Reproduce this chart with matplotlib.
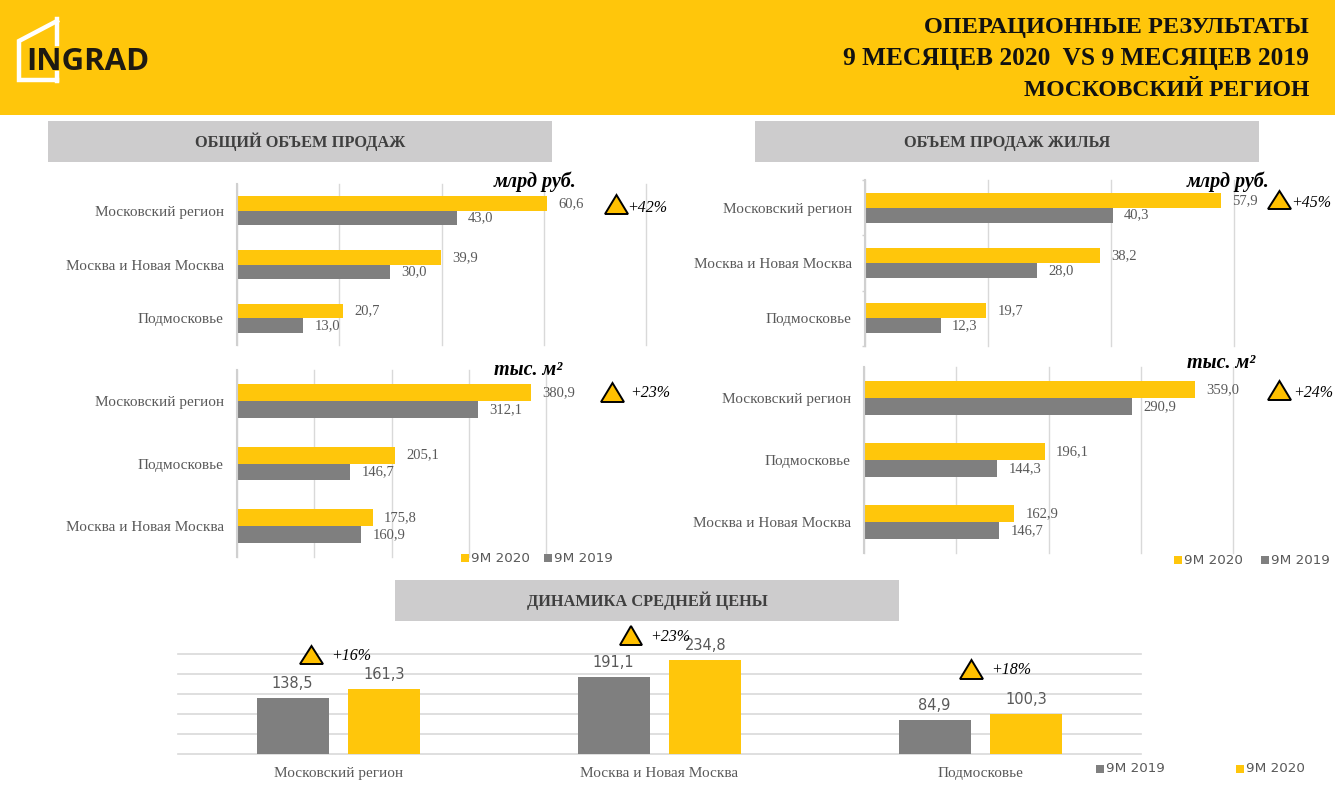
import matplotlib
matplotlib.use('Agg')
import matplotlib.pyplot as plt
from matplotlib.patches import Rectangle, Polygon

W, H = 1335, 810
YELLOW = '#FFC60B'
GRAY = '#7F7F7F'
GRID = '#D9D9D9'
TEXT = '#595959'
SERIF = 'Liberation Serif'

# общий объем продаж, млрд руб.
total_rub_cats = ['Московский регион', 'Москва и Новая Москва', 'Подмосковье']
total_rub_2020 = [60.6, 39.9, 20.7]
total_rub_2019 = [43.0, 30.0, 13.0]

# общий объем продаж, тыс. м2
total_m2_cats = ['Московский регион', 'Подмосковье', 'Москва и Новая Москва']
total_m2_2020 = [380.9, 205.1, 175.8]
total_m2_2019 = [312.1, 146.7, 160.9]

# жилье, млрд руб.
home_rub_cats = ['Московский регион', 'Москва и Новая Москва', 'Подмосковье']
home_rub_2020 = [57.9, 38.2, 19.7]
home_rub_2019 = [40.3, 28.0, 12.3]

# жилье, тыс. м2
home_m2_cats = ['Московский регион', 'Подмосковье', 'Москва и Новая Москва']
home_m2_2020 = [359.0, 196.1, 162.9]
home_m2_2019 = [290.9, 144.3, 146.7]

# средняя цена
price_cats = ['Московский регион', 'Москва и Новая Москва', 'Подмосковье']
price_2019 = [138.5, 191.1, 84.9]
price_2020 = [161.3, 234.8, 100.3]

title_lines = ['ОПЕРАЦИОННЫЕ РЕЗУЛЬТАТЫ', '9 МЕСЯЦЕВ 2020  VS 9 МЕСЯЦЕВ 2019', 'МОСКОВСКИЙ РЕГИОН']


def comma(values):
    return [f'{v:.1f}'.replace('.', ',') for v in values]


def make_axes(fig, left, top, right, bottom):
    ax = fig.add_axes([left / W, 1 - bottom / H, (right - left) / W, (bottom - top) / H])
    ax.patch.set_alpha(0)
    for s in ax.spines.values():
        s.set_visible(False)
    ax.set_axisbelow(True)
    return ax


def hbars(fig, box, cats, v2020, v2019, xmax, step):
    ax = make_axes(fig, *box)
    pos = list(range(len(cats)))
    h = 0.27
    b1 = ax.barh([p - h / 2 for p in pos], v2020, height=h, color=YELLOW)
    b2 = ax.barh([p + h / 2 for p in pos], v2019, height=h, color=GRAY)
    ax.bar_label(b1, labels=comma(v2020), padding=8, fontsize=10.5, color=TEXT, family=SERIF)
    ax.bar_label(b2, labels=comma(v2019), padding=8, fontsize=10.5, color=TEXT, family=SERIF)
    ax.set_xlim(0, xmax)
    ax.set_ylim(len(cats) - 0.5, -0.5)
    ax.set_xticks(range(0, xmax + 1, step))
    ax.set_yticks(pos, cats, fontsize=11, color=TEXT, family=SERIF)
    ax.xaxis.grid(True, color=GRID, lw=1)
    for line in ax.get_xgridlines():
        line.set_clip_on(False)
    ax.tick_params(axis='both', length=0)
    ax.tick_params(axis='y', pad=9.5)
    ax.tick_params(axis='x', labelbottom=False)
    ax.spines['left'].set_visible(True)
    ax.spines['left'].set_color('#D0D0D0')
    ax.spines['left'].set_linewidth(1.5)
    return ax


def triangle(ov, x0, x1, y0, y1):
    ov.add_patch(Polygon([(x0, y1), (x1, y1), ((x0 + x1) / 2, y0)], closed=True,
                         fc='#FFC000', ec='black', lw=1.4))


fig = plt.figure(figsize=(W / 100, H / 100), dpi=100, facecolor='white')

# подложка: шапка и серые плашки
bg = fig.add_axes([0, 0, 1, 1], zorder=0)
bg.set_xlim(0, W)
bg.set_ylim(H, 0)
bg.axis('off')
bg.add_patch(Rectangle((0, 0), W, 115, fc=YELLOW, ec='none'))
for x0, y0 in [(48, 121), (755, 121), (395, 580)]:
    bg.add_patch(Rectangle((x0, y0), 504, 41, fc='#CDCCCD', ec='none'))
for tx, ty, s in [(300, 147, 'ОБЩИЙ ОБЪЕМ ПРОДАЖ'), (1007, 147, 'ОБЪЕМ ПРОДАЖ ЖИЛЬЯ'),
                  (647, 606, 'ДИНАМИКА СРЕДНЕЙ ЦЕНЫ')]:
    bg.text(tx, ty, s, ha='center', va='baseline', fontsize=11.8, fontweight='bold',
            family=SERIF, color='#3F3F3F')

# логотип
bg.plot([57, 19, 19, 57], [21, 41, 80, 80], color='white', lw=3.2, solid_joinstyle='miter')
bg.plot([57, 57], [19, 44], color='white', lw=3.2)
bg.plot([57, 57], [73, 81], color='white', lw=3.2)
bg.text(26, 61.5, 'INGRAD', ha='left', va='center', fontsize=22.5, fontweight='bold',
        family='Open Sans', color='#1E1A12')

for line, y, fs in zip(title_lines, [33, 65, 96], [17.5, 18.3, 17]):
    bg.text(1309, y, line, ha='right', va='baseline', fontsize=fs, fontweight='bold',
            family=SERIF, color='#111111')

# четыре горизонтальных графика
hbars(fig, (237, 184, 646, 345), total_rub_cats, total_rub_2020, total_rub_2019, 80, 20)
hbars(fig, (237, 370, 546, 557), total_m2_cats, total_m2_2020, total_m2_2019, 400, 100)
ax_home = hbars(fig, (865, 180, 1234, 346), home_rub_cats, home_rub_2020, home_rub_2019, 60, 20)
hbars(fig, (864, 367, 1233, 553), home_m2_cats, home_m2_2020, home_m2_2019, 400, 100)

# у этого графика на оси есть засечки между категориями
ax_home.set_yticks([-0.5, 0.5, 1.5, 2.5], minor=True)
ax_home.tick_params(axis='y', which='minor', length=2.5, width=1, color='#D0D0D0')

# средняя цена
ax = make_axes(fig, 178, 654, 1141, 753.5)
w = 0.224
off = 0.143
x = list(range(len(price_cats)))
b19 = ax.bar([i - off for i in x], price_2019, width=w, color=GRAY)
b20 = ax.bar([i + off for i in x], price_2020, width=w, color=YELLOW)
ax.bar_label(b19, labels=comma(price_2019), padding=5, fontsize=10.5, color=TEXT, family='DejaVu Sans')
ax.bar_label(b20, labels=comma(price_2020), padding=5, fontsize=10.5, color=TEXT, family='DejaVu Sans')
ax.set_xlim(-0.5, 2.5)
ax.set_ylim(0, 250)
ax.set_yticks(range(0, 251, 50))
ax.set_xticks(x, price_cats, fontsize=11, color=TEXT, family=SERIF)
ax.yaxis.grid(True, color=GRID, lw=1.2)
for line in ax.get_ygridlines():
    line.set_clip_on(False)
ax.tick_params(axis='both', length=0)
ax.tick_params(axis='x', pad=9.5)
ax.tick_params(axis='y', labelleft=False)

# верхний слой: единицы, треугольники, легенды
ov = fig.add_axes([0, 0, 1, 1], zorder=5)
ov.set_xlim(0, W)
ov.set_ylim(H, 0)
ov.axis('off')

for tx, ty, s in [(535, 182, 'млрд руб.'), (528, 370, 'тыс. м²'),
                  (1228, 182, 'млрд руб.'), (1221, 363, 'тыс. м²')]:
    ov.text(tx, ty, s, ha='center', va='center', fontsize=14.5, fontweight='bold',
            style='italic', family=SERIF, color='black')

for x0, x1, y0, y1 in [(605, 628, 195, 214), (601, 624, 383, 402), (1268, 1291, 191, 209),
                       (1268, 1291, 381, 400), (300, 323, 646, 664), (620, 642, 626, 645),
                       (960, 983, 660, 679)]:
    triangle(ov, x0, x1, y0, y1)

for tx, ty, s in [(627, 208, '+42%'), (630, 393, '+23%'), (1291, 203, '+45%'),
                  (1293, 393, '+24%'), (331, 656, '+16%'), (650, 637, '+23%'), (991, 670, '+18%')]:
    ov.text(tx, ty, s, ha='left', va='center', fontsize=11.5, style='italic',
            family=SERIF, color='black')

for lx, ly, col, s in [(461, 558, YELLOW, '9M 2020'), (544, 558, GRAY, '9M 2019'),
                       (1174, 560, YELLOW, '9M 2020'), (1261, 560, GRAY, '9M 2019'),
                       (1096, 769, GRAY, '9M 2019'), (1236, 769, YELLOW, '9M 2020')]:
    ov.add_patch(Rectangle((lx, ly - 4), 8, 8, fc=col, ec='none'))
    ov.text(lx + 10, ly, s, ha='left', va='center', fontsize=9.7, family='DejaVu Sans', color=TEXT)

fig.savefig('out.png', dpi=100)
